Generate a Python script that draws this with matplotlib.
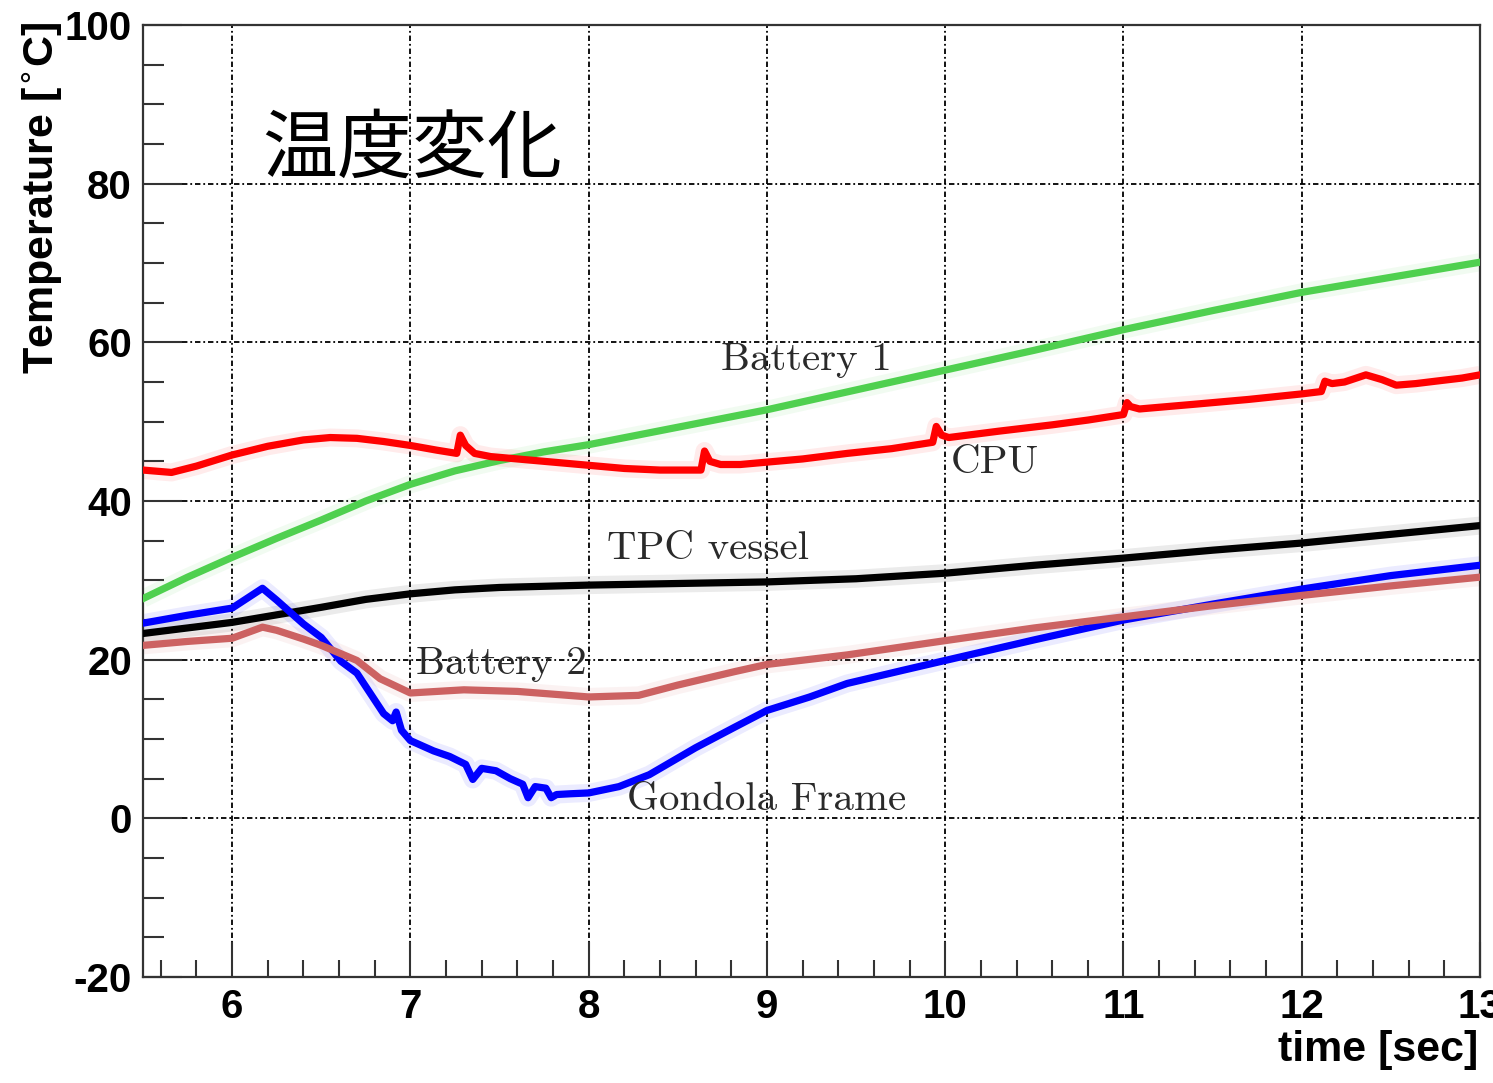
import matplotlib
matplotlib.use("Agg")
import matplotlib.pyplot as plt
from matplotlib.ticker import MultipleLocator

plt.rcParams['font.family'] = ['Liberation Sans', 'DejaVu Sans']
plt.rcParams['axes.unicode_minus'] = False

# ---- measured temperature traces -------------------------------------------
battery1_t = [5.5, 5.75, 6.0, 6.25, 6.5, 6.75, 7.0, 7.25, 7.5, 7.75, 8.0, 8.5,
              9.0, 9.5, 10.0, 10.5, 11.0, 11.5, 12.0, 12.5, 13.0]
battery1_T = [27.7, 30.4, 32.9, 35.3, 37.6, 40.0, 42.1, 43.8, 45.1, 46.2, 47.1, 49.3,
              51.5, 54.0, 56.5, 59.0, 61.6, 64.0, 66.3, 68.2, 70.1]

cpu_t = [5.5, 5.66, 5.8, 6.0, 6.2, 6.4, 6.55, 6.7, 6.85, 7.0, 7.15, 7.26, 7.28,
         7.31, 7.36, 7.45, 7.6, 7.8, 8.0, 8.2, 8.4, 8.63, 8.65, 8.68, 8.74, 8.85,
         9.0, 9.2, 9.45, 9.7, 9.93, 9.95, 9.98, 10.02, 10.3, 10.6, 10.8, 11.0,
         11.02, 11.04, 11.09, 11.4, 11.7, 12.0, 12.11, 12.13, 12.17, 12.24, 12.36,
         12.45, 12.53, 12.64, 12.75, 12.9, 13.0]
cpu_T = [43.9, 43.6, 44.4, 45.8, 46.9, 47.7, 48.0, 47.9, 47.5, 47.0, 46.4, 46.0, 48.3,
         47.0, 46.0, 45.6, 45.3, 44.9, 44.5, 44.1, 43.9, 43.9, 46.3, 45.0, 44.6, 44.6,
         44.9, 45.3, 46.0, 46.6, 47.4, 49.4, 48.3, 48.0, 48.8, 49.6, 50.2, 50.9,
         52.4, 51.9, 51.6, 52.2, 52.8, 53.5, 53.8, 55.1, 54.8, 55.0, 55.9,
         55.3, 54.6, 54.8, 55.1, 55.5, 55.9]

tpc_t = [5.5, 6.0, 6.5, 6.75, 7.0, 7.25, 7.5, 8.0, 8.5, 9.0, 9.5, 10.0, 10.5, 11.0,
         11.5, 12.0, 12.5, 13.0]
tpc_T = [23.3, 24.7, 26.6, 27.6, 28.3, 28.8, 29.1, 29.4, 29.6, 29.8, 30.2, 30.9, 31.9,
         32.8, 33.8, 34.7, 35.8, 36.9]

gondola_t = [5.5, 5.75, 6.0, 6.17, 6.25, 6.4, 6.5, 6.61, 6.7, 6.75, 6.85, 6.9,
             6.92, 6.95, 7.0, 7.13, 7.22, 7.31, 7.35, 7.4, 7.48, 7.56, 7.63, 7.66,
             7.7, 7.76, 7.79, 7.82, 7.9, 8.0, 8.17, 8.34, 8.6, 8.82, 9.0, 9.24,
             9.45, 9.77, 10.0, 10.5, 11.0, 11.5, 12.0, 12.5, 13.0]
gondola_T = [24.6, 25.6, 26.5, 29.0, 27.5, 24.5, 22.8, 19.8, 18.3, 16.6, 13.2, 12.3,
             13.4, 11.1, 9.8, 8.5, 7.8, 6.8, 4.9, 6.3, 6.0, 5.0, 4.3, 2.6,
             4.0, 3.8, 2.6, 3.0, 3.1, 3.2, 4.0, 5.5, 8.9, 11.5, 13.6, 15.3,
             17.0, 18.7, 19.9, 22.5, 25.0, 27.0, 28.9, 30.6, 31.9]

battery2_t = [5.5, 5.75, 6.0, 6.17, 6.25, 6.4, 6.5, 6.7, 6.83, 7.0, 7.3, 7.6, 8.0,
              8.28, 8.5, 8.82, 9.0, 9.45, 10.0, 10.5, 11.0, 11.5, 12.0, 12.5, 13.0]
battery2_T = [21.8, 22.3, 22.7, 24.1, 23.7, 22.6, 21.8, 19.9, 17.6, 15.8, 16.2, 16.0,
              15.3, 15.5, 16.8, 18.5, 19.4, 20.6, 22.4, 24.0, 25.4, 26.8, 28.1,
              29.3, 30.4]

series = [
    (battery1_t, battery1_T, '#4fd04f'),
    (cpu_t, cpu_T, '#ff0000'),
    (tpc_t, tpc_T, '#000000'),
    (gondola_t, gondola_T, '#0000ff'),
    (battery2_t, battery2_T, '#cc6262'),
]

# curve annotations: (text, x, y)
labels = [
    ("Battery 1", 9.22, 57.8),
    ("CPU", 10.28, 44.8),
    ("TPC vessel", 8.67, 34.0),
    ("Battery 2", 7.51, 19.4),
    ("Gondola Frame", 9.0, 2.3),
]

title_text = "温度変化"
xlabel_text = "time [sec]"
ylabel_text = r"Temperature [$^{\circ}$C]"

# ---- figure -----------------------------------------------------------------
W, H = 1493, 1083
fig = plt.figure(figsize=(W / 100, H / 100), dpi=100, facecolor='white')
ax = fig.add_axes([143 / W, 1 - 977 / H, (1480 - 143) / W, (977 - 25) / H])

for t, T, c in series:
    ax.plot(t, T, color=c, lw=13, alpha=0.08, solid_capstyle='butt', zorder=2)
    ax.plot(t, T, color=c, lw=5.2, solid_joinstyle='round', zorder=3)

ax.set_xlim(5.5, 13)
ax.set_ylim(-20, 100)
ax.xaxis.set_major_locator(MultipleLocator(1))
ax.xaxis.set_minor_locator(MultipleLocator(0.2))
ax.yaxis.set_major_locator(MultipleLocator(20))
ax.yaxis.set_minor_locator(MultipleLocator(5))

ax.grid(True, which='major', color='black', lw=1.3,
        linestyle=(0, (3, 1.6, 1, 1.6)), zorder=1)
ax.set_axisbelow(True)

ax.tick_params(axis='both', which='both', direction='in', colors='#333333',
               width=1.5, labelsize=29, labelcolor='black')
ax.tick_params(axis='x', which='major', length=25, pad=8)
ax.tick_params(axis='x', which='minor', length=12)
ax.tick_params(axis='y', which='major', length=28, pad=8)
ax.tick_params(axis='y', which='minor', length=15)
for lab in ax.get_xticklabels() + ax.get_yticklabels():
    lab.set_fontweight('bold')

for s in ax.spines.values():
    s.set_color('#333333')
    s.set_linewidth(1.6)

for text, x, y in labels:
    ax.text(x, y, text, family='cmr10', fontsize=29.5, color='#2a2a2a',
            ha='center', va='center', zorder=5)

fig.text(412 / W, 1 - 150 / H, title_text, family=['Noto Sans CJK JP', 'DejaVu Sans'],
         fontsize=54, color='black', ha='center', va='center')

fig.text(1478 / W, 1 - 1050 / H, xlabel_text, fontsize=31, fontweight='bold',
         ha='right', va='center')
fig.text(42 / W, 1 - 22 / H, ylabel_text, fontsize=31, fontweight='bold',
         rotation=90, ha='center', va='top')

fig.savefig("out.png", dpi=100, facecolor='white')
